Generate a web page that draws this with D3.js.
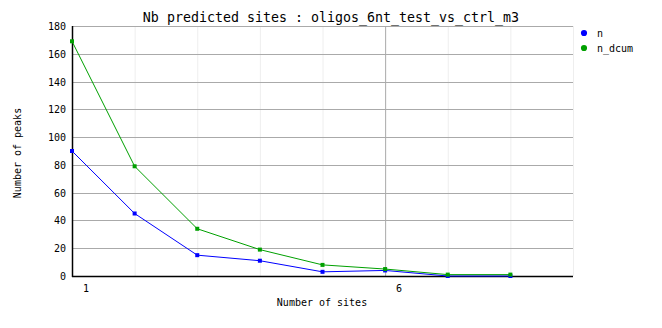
<!doctype html>
<html lang="en">
<head>
<title>Nb predicted sites</title>
<script src="https://d3js.org/d3.v7.min.js"></script>
<style>
  body { margin: 0; background: #fff; }
  text { font-family: "DejaVu Sans Mono", monospace; fill: #000; }
</style>
</head>
<body>
<div id="svg"></div>
<script>
// data
var sites = [1, 2, 3, 4, 5, 6, 7, 8];
var n_vals = [90, 45, 15, 11, 3, 4, 0, 0];
var n_dcum_vals = [169, 79, 34, 19, 8, 5, 1, 1];
var y_ticks = [0, 20, 40, 60, 80, 100, 120, 140, 160, 180];
var x_ticks = [1, 6];
var x_grid = [2, 3, 4, 5, 6, 7, 8, 9];
var series_names = ["n", "n_dcum"];
var series_colours = ["#0000ff", "#00a000"];

var chart = d3.select("#svg")
  .append("svg")
  .attr("width", 662)
  .attr("height", 328)
  .style("background", "#ffffff");

var x = d3.scaleLinear().domain([1, 9]).range([72, 573]);
var y = d3.scaleLinear().domain([0, 180]).range([276, 26]);

// grid
chart.selectAll(".vgrid").data(x_grid).enter().append("line")
  .attr("x1", d => x(d) + 0.5).attr("x2", d => x(d) + 0.5)
  .attr("y1", y(180)).attr("y2", y(0))
  .style("stroke", d => d == 6 ? "#aaaaaa" : "#eeeeee")
  .style("stroke-width", 1);

chart.selectAll(".hgrid").data(y_ticks.filter(d => d > 0)).enter().append("line")
  .attr("x1", x(1)).attr("x2", x(9))
  .attr("y1", d => Math.round(y(d)) + 0.5).attr("y2", d => Math.round(y(d)) + 0.5)
  .style("stroke", "#aaaaaa")
  .style("stroke-width", 1);

// axes
chart.append("line").attr("x1", x(1) + 0.5).attr("x2", x(1) + 0.5)
  .attr("y1", y(180)).attr("y2", y(0) + 1)
  .style("stroke", "#000").style("stroke-width", 1.5);
chart.append("line").attr("x1", x(1)).attr("x2", x(9))
  .attr("y1", y(0) + 0.5).attr("y2", y(0) + 0.5)
  .style("stroke", "#000").style("stroke-width", 1.5);

// tick labels
chart.selectAll(".ylab").data(y_ticks).enter().append("text")
  .attr("x", 66).attr("y", d => y(d) + 4)
  .attr("text-anchor", "end")
  .style("font-size", "10px")
  .text(d => d);

chart.selectAll(".xlab").data(x_ticks).enter().append("text")
  .attr("x", d => x(d) + 14).attr("y", 292)
  .attr("text-anchor", "middle")
  .style("font-size", "10px")
  .text(d => d);

// titles
chart.append("text").attr("x", 331).attr("y", 22)
  .attr("text-anchor", "middle")
  .style("font-size", "13.3px")
  .text("Nb predicted sites : oligos_6nt_test_vs_ctrl_m3");

chart.append("text").attr("x", 322).attr("y", 306)
  .attr("text-anchor", "middle")
  .style("font-size", "10px")
  .text("Number of sites");

chart.append("text")
  .attr("transform", "translate(21,153) rotate(-90)")
  .attr("text-anchor", "middle")
  .style("font-size", "10px")
  .text("Number of peaks");

// lines
var all_series = [n_vals, n_dcum_vals];
var line = d3.line()
  .x((d, i) => x(sites[i]))
  .y(d => y(d));

all_series.forEach(function (vals, k) {
  chart.append("path")
    .attr("d", line(vals))
    .style("fill", "none")
    .style("stroke", series_colours[k])
    .style("stroke-width", 1);
  chart.selectAll(".pt" + k).data(vals).enter().append("rect")
    .attr("x", (d, i) => x(sites[i]) - 2)
    .attr("y", d => y(d) - 2)
    .attr("width", 4).attr("height", 4)
    .style("fill", series_colours[k]);
});

// legend
var star = d3.symbol().type(d3.symbolCircle).size(30);
series_names.forEach(function (name, k) {
  chart.append("path")
    .attr("d", star())
    .attr("transform", "translate(584," + (33 + k * 15) + ")")
    .style("fill", series_colours[k]);
  chart.append("text")
    .attr("x", 597).attr("y", 37 + k * 15)
    .style("font-size", "10px")
    .text(name);
});
</script>
</body>
</html>
